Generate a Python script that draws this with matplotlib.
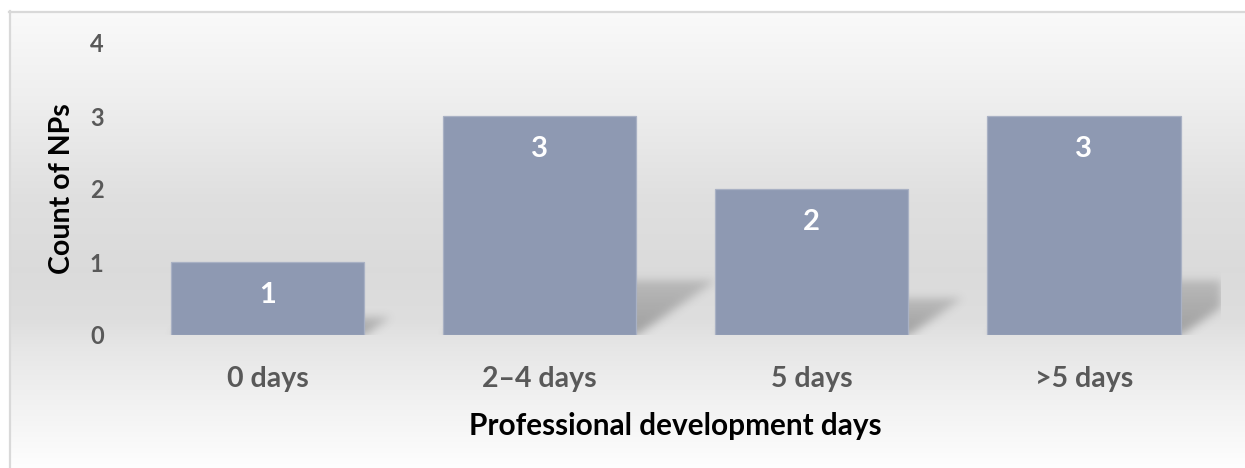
import numpy as np
import matplotlib
matplotlib.use("Agg")
import matplotlib.pyplot as plt
from matplotlib.lines import Line2D

# ---- data -------------------------------------------------------------
categories = ["0 days", "2\u20134 days", "5 days", ">5 days"]
counts = [1, 3, 2, 3]
y_ticks = [0, 1, 2, 3, 4]
x_title = "Professional development days"
y_title = "Count of NPs"

# ---- styling ----------------------------------------------------------
plt.rcParams["font.family"] = ["Lato", "DejaVu Sans"]
plt.rcParams["font.weight"] = "bold"

W, H, DPI = 1245, 468, 100
fig = plt.figure(figsize=(W / DPI, H / DPI), dpi=DPI)
fig.patch.set_facecolor("white")

# chart-area gradient (white -> grey -> white) inside the frame
bg_ax = fig.add_axes([9 / W, 0, 1 - 9 / W, 1 - 11 / H], zorder=-5)
bg_ax.set_axis_off()
rows = np.arange(11, H + 1)
stops_px = [11, 100, 200, 270, 320, 350, 400, 468]
stops_val = [0.98, 0.935, 0.875, 0.858, 0.87, 0.905, 0.945, 0.995]
grey = np.interp(rows, stops_px, stops_val)
grad = np.repeat(grey[:, None], 2, axis=1)
bg_ax.imshow(np.dstack([grad, grad, grad]), aspect="auto",
             extent=(0, 1, 0, 1), interpolation="bilinear")
bg_ax.set_xlim(0, 1)
bg_ax.set_ylim(0, 1)

# frame (left and top edges visible)
fig.add_artist(Line2D([9.5 / W, 9.5 / W], [0, 1 - 11 / H], transform=fig.transFigure,
                      color="#d9d9d9", lw=1.6))
fig.add_artist(Line2D([9 / W, 1], [1 - 11.5 / H, 1 - 11.5 / H], transform=fig.transFigure,
                      color="#d9d9d9", lw=1.6))

# plot area
left_px, right_px, top_px, bottom_px = 131.5, 1220, 43, 335
ax = fig.add_axes([left_px / W, 1 - bottom_px / H,
                   (right_px - left_px) / W, (bottom_px - top_px) / H])
ax.set_facecolor("none")
ax.set_xlim(-0.5, len(categories) - 0.5)
ax.set_ylim(0, 4)

bar_w = 0.71
x = np.arange(len(categories))

# soft perspective shadow behind each bar
nx = int(round(right_px - left_px))
ny = int(round(bottom_px - top_px))
px_per_x = nx / len(categories)
px_per_y = ny / 4.0
XX, YY = np.meshgrid(np.arange(nx) + 0.5, np.arange(ny) + 0.5)
alpha = np.zeros((ny, nx))
for xi, v in zip(x, counts):
    Lp = (xi - bar_w / 2 + 0.5) * px_per_x
    Rp = (xi + bar_w / 2 + 0.5) * px_per_x
    hp = v * px_per_y
    sh = 0.25 * hp
    shift = 0.36 * hp
    t = YY / sh
    inside = (t <= 1) & (XX >= Lp + t * shift) & (XX <= Rp + t * shift)
    alpha = np.maximum(alpha, np.where(inside, 0.40 * (1 - 0.45 * t), 0))


def gauss_blur(img, sigma):
    r = int(3 * sigma)
    k = np.exp(-0.5 * (np.arange(-r, r + 1) / sigma) ** 2)
    k /= k.sum()
    pad = np.pad(img, r, mode="constant")
    tmp = np.apply_along_axis(lambda m: np.convolve(m, k, mode="valid"), 1, pad)
    return np.apply_along_axis(lambda m: np.convolve(m, k, mode="valid"), 0, tmp)


alpha = gauss_blur(alpha, 4.5)
shadow = np.zeros((ny, nx, 4))
shadow[..., :3] = 0.25
shadow[..., 3] = alpha
ax.imshow(shadow, extent=(-0.5, len(categories) - 0.5, 0, 4), origin="lower",
          aspect="auto", zorder=1, interpolation="bilinear")

bars = ax.bar(x, counts, width=bar_w, color="#8e99b2", edgecolor="#a9b1c4",
              linewidth=0.9, zorder=2)

for xi, v in zip(x, counts):
    ax.annotate(str(v), (xi, v), xytext=(0, -24), textcoords="offset points",
                ha="center", va="center", color="white", fontsize=21,
                fontweight="bold", zorder=3)

for s in ax.spines.values():
    s.set_visible(False)

ax.set_xticks(x)
ax.set_xticklabels(categories, fontsize=20.5, fontweight="bold", color="#595959")
ax.set_yticks(y_ticks)
ax.set_yticklabels([str(t) for t in y_ticks], fontsize=17, fontweight="bold",
                   color="#595959")
ax.tick_params(axis="x", length=0, pad=22)
ax.tick_params(axis="y", length=0, pad=20)

ax.set_xlabel(x_title, fontsize=21.4, fontweight="bold", color="black")
ax.xaxis.set_label_coords(0.5, -0.31)
ax.xaxis.label.set_va("center")
ax.set_ylabel(y_title, fontsize=20.5, fontweight="bold", color="black")
ax.yaxis.set_label_coords(-0.0638, 0.5)
ax.yaxis.label.set_va("center")

fig.savefig("out.png", dpi=DPI)
